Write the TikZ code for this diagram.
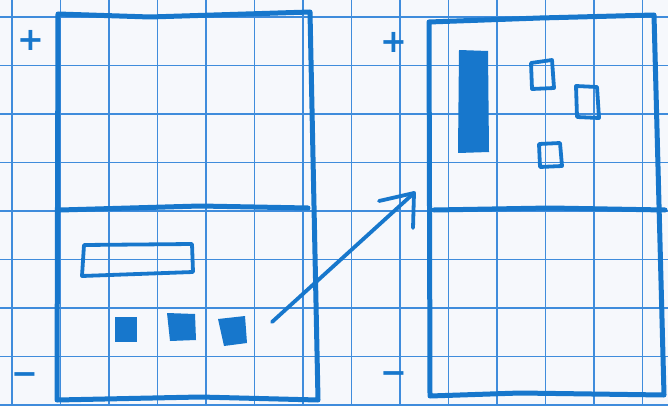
\documentclass[tikz,border=0pt]{standalone}
\usepackage{fontspec}
\newfontfamily\signfont{DejaVu Sans}
\usetikzlibrary{calc}
\definecolor{paper}{HTML}{F6F8FC}
\definecolor{gridblue}{HTML}{3F8CDC}
\definecolor{penblue}{HTML}{1777CC}

\begin{document}
\begin{tikzpicture}[x=1pt,y=-1pt,line cap=round,line join=round,
    gridline/.style={gridblue,line width=1.6pt},
    penline/.style={penblue,line width=5pt},
    penthin/.style={penblue,line width=3.8pt},
    sign/.style={penblue,font=\signfont\bfseries\fontsize{32}{32}\selectfont,inner sep=0pt}]
  \useasboundingbox (0,0) rectangle (668,406);
  \fill[paper] (0,0) rectangle (668,406);

  % squared paper
  \foreach \gx in {0,...,13}
    \draw[gridline] ({12+48.5*\gx},0) -- ++(0,406);
  \foreach \gy in {0,...,8}
    \draw[gridline] (0,{17+48.5*\gy}) -- ++(668,0);

  % left frame
  \draw[penline] (58,14) -- (150,17) -- (310,12) -- (318,400)
    -- (200,397) -- (57,400) -- cycle;
  \draw[penline] (60,210) -- (200,206) -- (308,208);
  \node[sign] (lplus) at (31,40) {+};
  \node[sign] (lminus) at (25,379) {−};

  % wide bar and three blocks
  \draw[penthin] (84,245) -- (192,244) -- (193,272) -- (82,276) -- cycle;
  \fill[penblue] (115,317) rectangle (137,342);
  \fill[penblue] (167,313) -- (195,314) -- (196,340) -- (170,341) -- cycle;
  \fill[penblue] (218,319) -- (245,316) -- (247,343) -- (224,346) -- cycle;

  % move arrow
  \coordinate (arrtail) at (272,322);
  \coordinate (arrhead) at (414,193);
  \draw[penthin] (arrtail) -- (arrhead);
  \draw[penthin] (379,201) -- (arrhead) -- (413,228);

  % right frame
  \draw[penline] (429,22) -- (540,18) -- (654,15) -- (664,395)
    -- (520,393) -- (430,396) -- cycle;
  \draw[penline] (434,210) -- (550,208) -- (665,210);
  \node[sign] (rplus) at (394,42) {+};
  \node[sign] (rminus) at (394,378) {−};

  % tall block and three small boxes
  \fill[penblue] (459,50) -- (488,51) -- (489,152) -- (458,153) -- cycle;
  \draw[penthin] (531,63) -- (552,60) -- (554,88) -- (532,89) -- cycle;
  \draw[penthin] (576,86) -- (597,87) -- (599,118) -- (577,117) -- cycle;
  \draw[penthin] (539,144) -- (560,143) -- (562,166) -- (540,167) -- cycle;
\end{tikzpicture}
\end{document}
